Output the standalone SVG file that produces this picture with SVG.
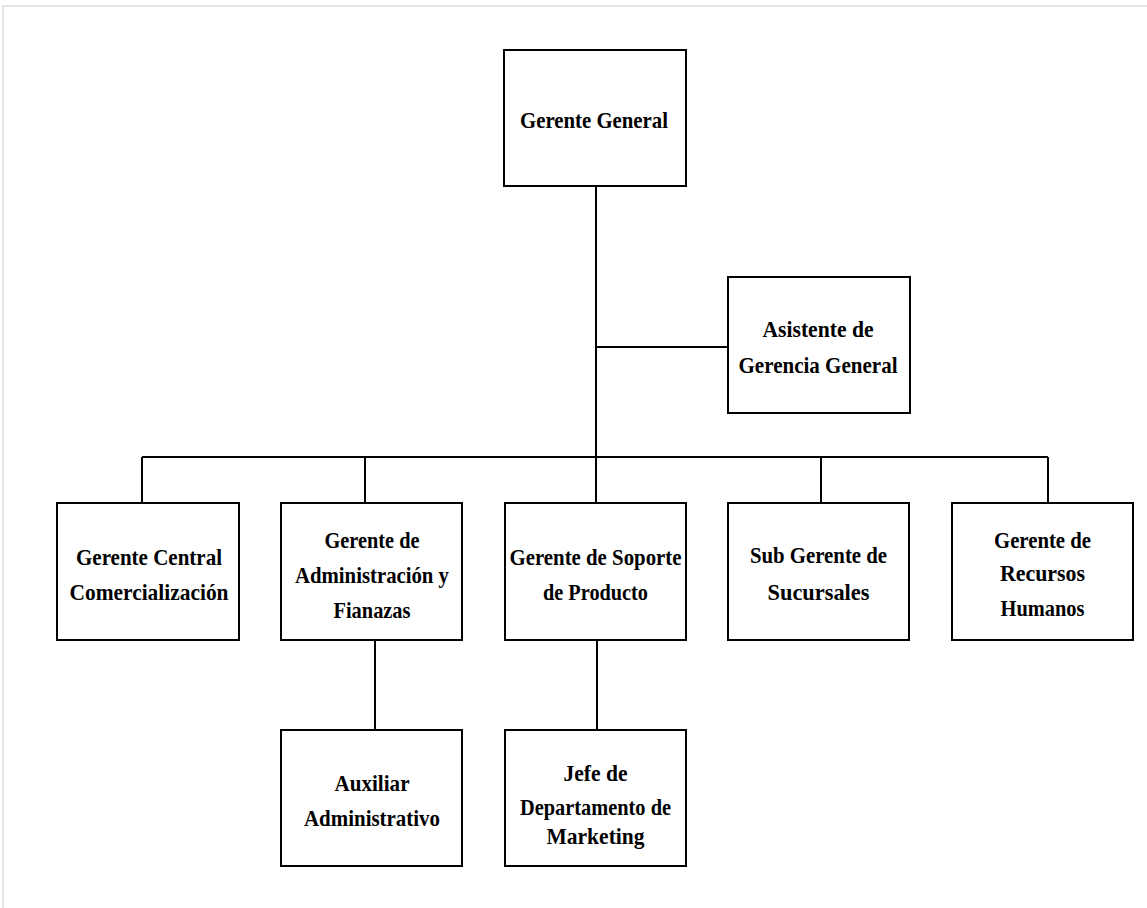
<svg xmlns="http://www.w3.org/2000/svg" width="1147" height="908" viewBox="0 0 1147 908">
<style>
.box{fill:#ffffff;stroke:#000000;stroke-width:2}
.lbl{font-family:"Liberation Serif","Times New Roman",serif;font-weight:bold;font-size:24px;fill:#000000;text-anchor:middle}
.con{fill:none;stroke:#000000;stroke-width:2}
.frame{fill:none;stroke:#d9dede;stroke-width:1.5}
</style>
<rect x="0" y="0" width="1147" height="908" fill="#ffffff"/>
<path class="frame" d="M3 908 V6 H1147"/>
<g id="connectors">
<path class="con" d="M596 186 V457"/>
<path class="con" d="M596 347 H728"/>
<path class="con" d="M142 457 H1048"/>
<path class="con" d="M142 457 V503"/>
<path class="con" d="M365 457 V503"/>
<path class="con" d="M596 457 V503"/>
<path class="con" d="M821 457 V503"/>
<path class="con" d="M1048 457 V503"/>
<path class="con" d="M375 640 V730"/>
<path class="con" d="M597 640 V730"/>
</g>
<g id="gerente-general">
<rect class="box" x="504" y="50" width="182" height="136"/>
<text class="lbl" x="594" y="128" textLength="148" lengthAdjust="spacingAndGlyphs">Gerente General</text>
</g>
<g id="asistente">
<rect class="box" x="728" y="277" width="182" height="136"/>
<text class="lbl" x="818" y="337" textLength="111" lengthAdjust="spacingAndGlyphs">Asistente de</text>
<text class="lbl" x="818" y="373" textLength="159" lengthAdjust="spacingAndGlyphs">Gerencia General</text>
</g>
<g id="comercializacion">
<rect class="box" x="57" y="503" width="182" height="137"/>
<text class="lbl" x="149" y="565" textLength="146" lengthAdjust="spacingAndGlyphs">Gerente Central</text>
<text class="lbl" x="149" y="600" textLength="159" lengthAdjust="spacingAndGlyphs">Comercialización</text>
</g>
<g id="administracion">
<rect class="box" x="281" y="503" width="181" height="137"/>
<text class="lbl" x="372" y="548" textLength="95" lengthAdjust="spacingAndGlyphs">Gerente de</text>
<text class="lbl" x="372" y="583" textLength="154" lengthAdjust="spacingAndGlyphs">Administración y</text>
<text class="lbl" x="372" y="618" textLength="77" lengthAdjust="spacingAndGlyphs">Fianazas</text>
</g>
<g id="soporte">
<rect class="box" x="505" y="503" width="181" height="137"/>
<text class="lbl" x="595.5" y="565" textLength="172" lengthAdjust="spacingAndGlyphs">Gerente de Soporte</text>
<text class="lbl" x="595.5" y="600" textLength="105" lengthAdjust="spacingAndGlyphs">de Producto</text>
</g>
<g id="sucursales">
<rect class="box" x="728" y="503" width="181" height="137"/>
<text class="lbl" x="818.5" y="563" textLength="137" lengthAdjust="spacingAndGlyphs">Sub Gerente de</text>
<text class="lbl" x="818.5" y="600" textLength="102" lengthAdjust="spacingAndGlyphs">Sucursales</text>
</g>
<g id="recursos-humanos">
<rect class="box" x="952" y="503" width="181" height="137"/>
<text class="lbl" x="1042.5" y="548" textLength="97" lengthAdjust="spacingAndGlyphs">Gerente de</text>
<text class="lbl" x="1042.5" y="581" textLength="85" lengthAdjust="spacingAndGlyphs">Recursos</text>
<text class="lbl" x="1042.5" y="616" textLength="84" lengthAdjust="spacingAndGlyphs">Humanos</text>
</g>
<g id="auxiliar">
<rect class="box" x="281" y="730" width="181" height="136"/>
<text class="lbl" x="372" y="791" textLength="75" lengthAdjust="spacingAndGlyphs">Auxiliar</text>
<text class="lbl" x="372" y="826" textLength="136" lengthAdjust="spacingAndGlyphs">Administrativo</text>
</g>
<g id="marketing">
<rect class="box" x="505" y="730" width="181" height="136"/>
<text class="lbl" x="595.5" y="781" textLength="64" lengthAdjust="spacingAndGlyphs">Jefe de</text>
<text class="lbl" x="595.5" y="815" textLength="151" lengthAdjust="spacingAndGlyphs">Departamento de</text>
<text class="lbl" x="595.5" y="844" textLength="98" lengthAdjust="spacingAndGlyphs">Marketing</text>
</g>
</svg>
